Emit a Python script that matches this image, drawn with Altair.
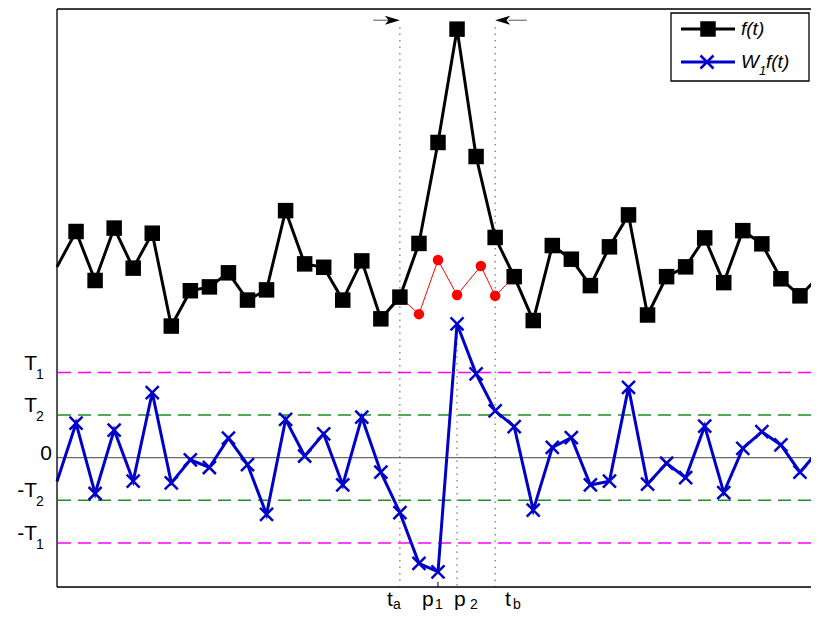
import altair as alt
import pandas as pd

# ---------------- data ----------------
t = list(range(41))
f_vals = [4.48, 5.31, 4.16, 5.39, 4.45, 5.27, 3.09, 3.92, 4.01, 4.34,
          3.70, 3.94, 5.80, 4.55, 4.47, 3.70, 4.62, 3.26, 3.77, 5.03,
          7.40, 10.06, 7.07, 5.17, 4.25, 3.22, 4.98, 4.66, 4.04, 4.95,
          5.70, 3.35, 4.25, 4.48, 5.16, 4.11, 5.33, 5.02, 4.20, 3.80, 4.25]
w_vals = [-0.56, 0.81, -0.84, 0.65, -0.55, 1.53, -0.59, -0.05, -0.23, 0.46,
          -0.16, -1.33, 0.90, 0.04, 0.56, -0.64, 0.95, -0.34, -1.29, -2.48,
          -2.68, 3.14, 1.97, 1.10, 0.73, -1.23, 0.24, 0.47, -0.64, -0.55,
          1.65, -0.62, -0.13, -0.47, 0.74, -0.82, 0.22, 0.61, 0.30, -0.34, 0.18]
red_x = [18, 19, 20, 21, 22.25, 23, 24]
red_y = [3.77, 3.37, 4.64, 3.82, 4.50, 3.80, 4.25]

T1, T2 = 2.0, 1.0
t_a, p_1, p_2, t_b = 18, 20, 21, 23

y_min, y_max = -3.035, 10.533
x_min, x_max = 0, 39.58   # the reference is cut at the window's right edge

# tick label pieces (main letter, subscript)
ylab_main = ["T", "T", "0", "-T", "-T"]
ylab_sub = ["1", "2", "", "2", "1"]
ylab_val = [T1, T2, 0.0, -T2, -T1]

xlab_main = ["t", "p", "p", "t"]
xlab_sub = ["a", "1", "2", "b"]
xlab_main_x = [17.32, 19.16, 20.84, 23.52]
xlab_sub_x = [17.64, 19.84, 21.68, 23.94]

W, H = 754, 578

# ---------------- tables ----------------
df_f = pd.DataFrame({"t": t, "v": f_vals})
df_w = pd.DataFrame({"t": t, "v": w_vals})
df_red = pd.DataFrame({"t": red_x, "v": red_y})
df_redpts = df_red.iloc[1:-1]

xs = alt.Scale(domain=[x_min, x_max], nice=False, zero=False)
ys = alt.Scale(domain=[y_min, y_max], nice=False, zero=False)
X = lambda f="t": alt.X(f"{f}:Q", scale=xs, axis=None)
Y = lambda f="v": alt.Y(f"{f}:Q", scale=ys, axis=None)

one = pd.DataFrame({"a": [0]})

magenta = (alt.Chart(pd.DataFrame({"v": [T1, -T1]}))
           .mark_rule(color="#ff00ff", strokeWidth=1.5, strokeDash=[13, 7])
           .encode(y=Y()))
green = (alt.Chart(pd.DataFrame({"v": [T2, -T2]}))
         .mark_rule(color="#1f8f1f", strokeWidth=1.5, strokeDash=[13, 7])
         .encode(y=Y()))
zero = (alt.Chart(pd.DataFrame({"v": [0.0]}))
        .mark_rule(color="#444444", strokeWidth=1)
        .encode(y=Y()))

vdot = pd.DataFrame({"t": [t_a, t_b, p_2],
                     "top": [10.11, 10.11, w_vals[p_2]],
                     "bot": [y_min, y_min, y_min]})
dotted = (alt.Chart(vdot)
          .mark_rule(color="#555555", strokeWidth=1, strokeDash=[1.5, 5])
          .encode(x=X(), y=Y("top"), y2="bot"))
p1tick = (alt.Chart(pd.DataFrame({"t": [p_1], "top": [y_min + 0.12], "bot": [y_min]}))
          .mark_rule(color="black", strokeWidth=1)
          .encode(x=X(), y=Y("top"), y2="bot"))

f_line = alt.Chart(df_f).mark_line(color="black", strokeWidth=3).encode(x=X(), y=Y())
red_line = alt.Chart(df_red).mark_line(color="#ff0000", strokeWidth=1).encode(x=X(), y=Y())
red_pts = (alt.Chart(df_redpts)
           .mark_point(shape="circle", filled=True, size=110, color="#ff0000", opacity=1)
           .encode(x=X(), y=Y()))
f_pts = (alt.Chart(df_f[df_f.t >= 1])
         .mark_point(shape="square", filled=True, size=240, color="black", opacity=1)
         .encode(x=X(), y=Y()))

BLUE = "#0000c8"
XSHAPE = "M-1,-1L1,1M-1,1L1,-1"
w_line = alt.Chart(df_w).mark_line(color=BLUE, strokeWidth=3).encode(x=X(), y=Y())
w_pts = (alt.Chart(df_w[df_w.t >= 1])
         .mark_point(shape=XSHAPE, filled=False, size=169, color=BLUE, strokeWidth=2.5, opacity=1)
         .encode(x=X(), y=Y()))

# arrows pointing at t_a and t_b
arr_y = 10.27
shafts = (alt.Chart(pd.DataFrame({"t": [16.6, 23.7], "t2": [17.6, 24.66], "v": [arr_y, arr_y]}))
          .mark_rule(color="#555555", strokeWidth=1)
          .encode(x=X(), x2="t2", y=Y()))
head_r = (alt.Chart(pd.DataFrame({"t": [t_a], "v": [arr_y]}))
          .mark_point(shape="M0,0L-2,-0.6L-1.5,0L-2,0.6Z", filled=True, size=225,
                      color="black", opacity=1)
          .encode(x=X(), y=Y()))
head_l = (alt.Chart(pd.DataFrame({"t": [t_b], "v": [arr_y]}))
          .mark_point(shape="M0,0L2,-0.6L1.5,0L2,0.6Z", filled=True, size=225,
                      color="black", opacity=1)
          .encode(x=X(), y=Y()))

# axes frame (left, top, bottom)
frame_v = (alt.Chart(one).mark_rule(color="black", strokeWidth=1.3)
           .encode(x=alt.value(0), y=alt.value(0), y2=alt.value(H)))
frame_t = (alt.Chart(one).mark_rule(color="black", strokeWidth=1.3)
           .encode(x=alt.value(0), x2=alt.value(W), y=alt.value(0)))
frame_b = (alt.Chart(one).mark_rule(color="black", strokeWidth=1.3)
           .encode(x=alt.value(0), x2=alt.value(W), y=alt.value(H)))

# legend (drawn by hand inside the plot)
leg_box = (alt.Chart(one).mark_rect(fill="white", stroke="black", strokeWidth=1.3)
           .encode(x=alt.value(614), x2=alt.value(752), y=alt.value(4), y2=alt.value(72)))
leg_l1 = (alt.Chart(one).mark_rule(color="black", strokeWidth=3)
          .encode(x=alt.value(624), x2=alt.value(678), y=alt.value(20)))
leg_m1 = (alt.Chart(one).mark_point(shape="square", filled=True, size=240, color="black", opacity=1)
          .encode(x=alt.value(651), y=alt.value(20)))
leg_l2 = (alt.Chart(one).mark_rule(color=BLUE, strokeWidth=3)
          .encode(x=alt.value(624), x2=alt.value(678), y=alt.value(53)))
leg_m2 = (alt.Chart(one).mark_point(shape=XSHAPE, filled=False, size=169, color=BLUE,
                                    strokeWidth=2.5, opacity=1)
          .encode(x=alt.value(650), y=alt.value(53)))
txt_kw = dict(font="Liberation Sans", fontStyle="italic", align="left", baseline="alphabetic",
              color="black")
leg_t1 = (alt.Chart(one).mark_text(fontSize=19, text="f(t)", **txt_kw)
          .encode(x=alt.value(684), y=alt.value(26)))
leg_t2 = (alt.Chart(one).mark_text(fontSize=19, text="W", **txt_kw)
          .encode(x=alt.value(684), y=alt.value(59)))
leg_t3 = (alt.Chart(one).mark_text(fontSize=13, text="1", **txt_kw)
          .encode(x=alt.value(702), y=alt.value(66)))
leg_t4 = (alt.Chart(one).mark_text(fontSize=19, text="f(t)", **txt_kw)
          .encode(x=alt.value(709), y=alt.value(59)))

# tick labels
df_yl = pd.DataFrame({"v": ylab_val, "m": ylab_main, "s": ylab_sub})
ylab_m = (alt.Chart(df_yl[df_yl.m != "0"])
          .mark_text(font="Liberation Sans", fontSize=21, align="right", baseline="alphabetic",
                     dy=-3, color="black")
          .encode(x=alt.value(-20), y=Y(), text="m:N"))
ylab_0 = (alt.Chart(df_yl[df_yl.m == "0"])
          .mark_text(font="Liberation Sans", fontSize=21, align="right", baseline="alphabetic",
                     dy=2, color="black")
          .encode(x=alt.value(-5), y=Y(), text="m:N"))
ylab_s = (alt.Chart(df_yl[df_yl.s != ""])
          .mark_text(font="Liberation Sans", fontSize=14, align="left", baseline="alphabetic",
                     dy=6, color="black")
          .encode(x=alt.value(-21), y=Y(), text="s:N"))

df_xl = pd.DataFrame({"tm": xlab_main_x, "ts": xlab_sub_x, "m": xlab_main, "s": xlab_sub,
                      "v": [y_min] * 4})
xlab_m = (alt.Chart(df_xl)
          .mark_text(font="Liberation Sans", fontSize=21, align="left", baseline="alphabetic",
                     dy=19, color="black")
          .encode(x=X("tm"), y=Y(), text="m:N"))
xlab_s = (alt.Chart(df_xl)
          .mark_text(font="Liberation Sans", fontSize=14, align="left", baseline="alphabetic",
                     dy=22, color="black")
          .encode(x=X("ts"), y=Y(), text="s:N"))

chart = (alt.layer(magenta, green, zero, dotted, p1tick,
                   f_line, red_line, red_pts, f_pts,
                   w_line, w_pts,
                   shafts, head_r, head_l,
                   frame_v, frame_t, frame_b,
                   leg_box, leg_l1, leg_m1, leg_l2, leg_m2, leg_t1, leg_t2, leg_t3, leg_t4,
                   ylab_m, ylab_0, ylab_s, xlab_m, xlab_s)
         .properties(width=W, height=H,
                     autosize=alt.AutoSizeParams(type="none"),
                     padding={"left": 49, "top": 1, "right": 0, "bottom": 26})
         .configure_view(strokeOpacity=0)
         .configure(background="white"))

chart.save("out.html", embed_options={"renderer": "svg", "actions": False})
